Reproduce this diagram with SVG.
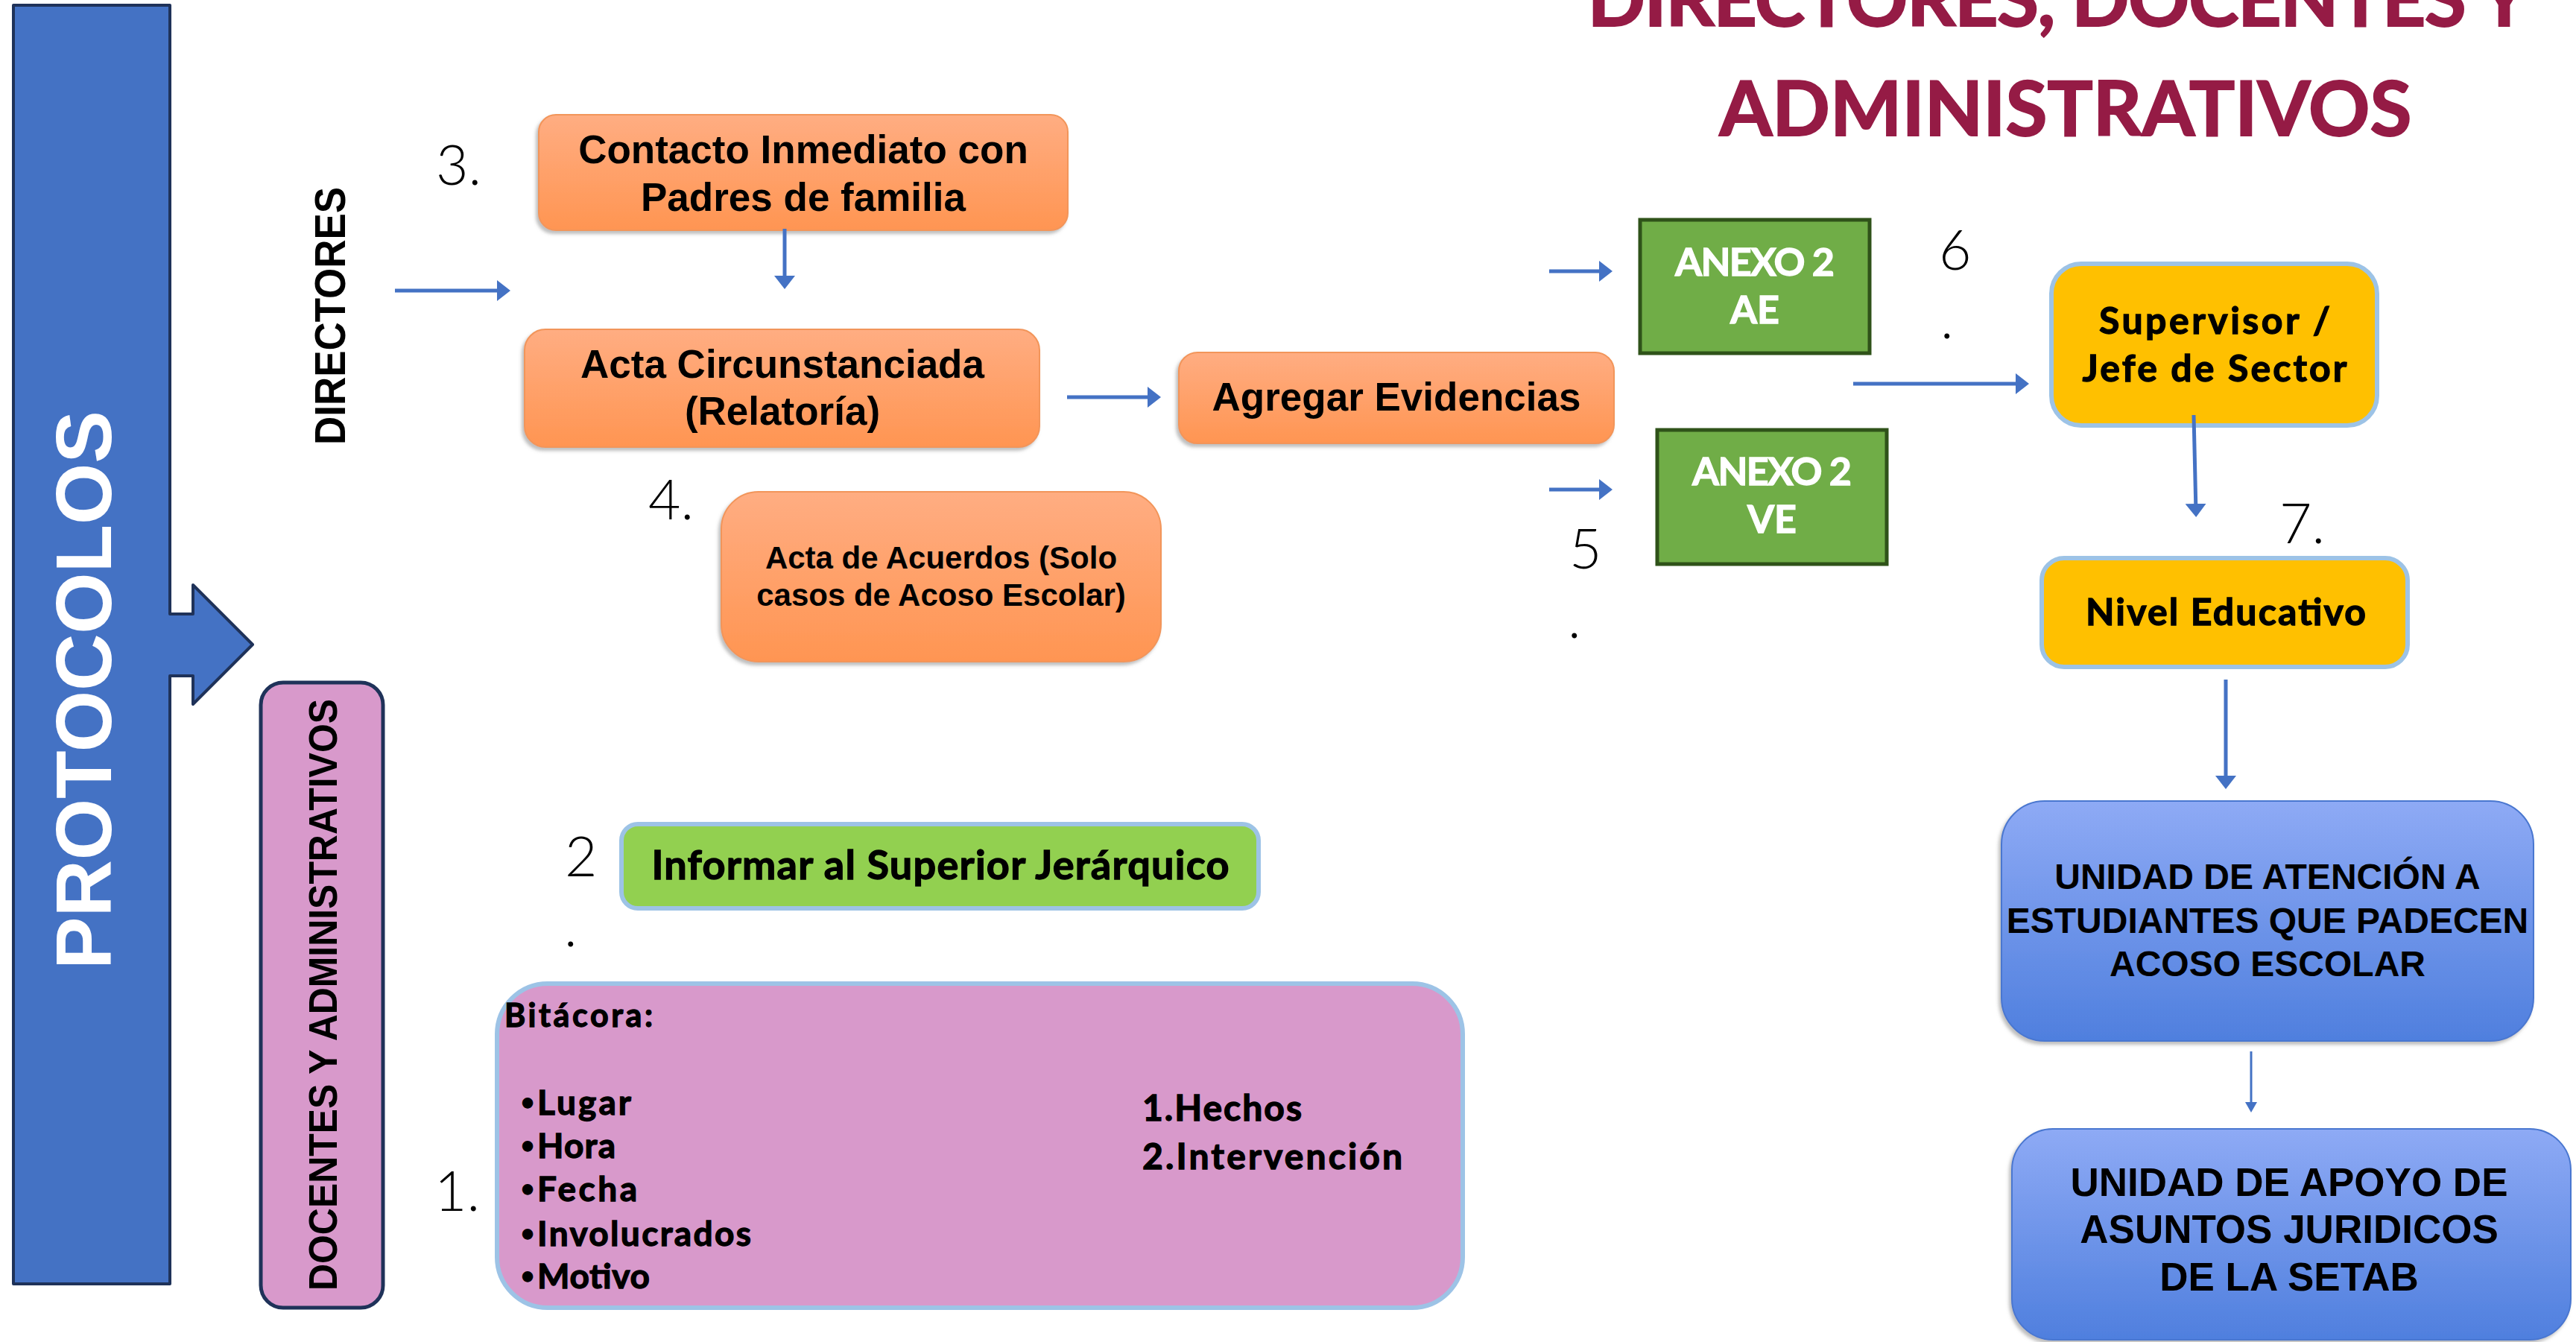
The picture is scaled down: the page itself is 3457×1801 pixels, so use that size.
<svg xmlns="http://www.w3.org/2000/svg" width="3457" height="1801" viewBox="0 0 3457 1801">
<style>
.ar{font-family:"Liberation Sans",Arial,sans-serif;font-weight:bold;fill:#000}
.geo{font-family:Lato,"Noto Sans",sans-serif;font-weight:700;fill:#000;stroke:#000;stroke-width:1.3px;paint-order:stroke}
.bul{font-family:"Liberation Sans",Arial,sans-serif;font-weight:bold}
.num{font-family:Lato,"Open Sans",sans-serif;font-weight:300;fill:#000;font-size:75px}
.conn line{stroke:#4472C4;stroke-width:5;fill:none}
.orange{fill:url(#gOr);stroke:#F2955A;stroke-width:2;filter:url(#sh)}
.blue{fill:url(#gBl);stroke:#4A77D0;stroke-width:2;filter:url(#sh)}
.yel{fill:#FFC000;stroke:#9DC3E6;stroke-width:6}
.pinkb{fill:#D899CB;stroke:#9DC3E6;stroke-width:6}
.grn{fill:#70AD47;stroke:#2F5219;stroke-width:5}
.wt{fill:#fff;stroke:#fff}
.ttl{fill:#951B45;stroke:#951B45;stroke-width:2px}
</style>
<defs>
<linearGradient id="gOr" x1="0" y1="0" x2="0" y2="1"><stop offset="0" stop-color="#FFAD82"/><stop offset="1" stop-color="#FF9552"/></linearGradient>
<linearGradient id="gBl" x1="0" y1="0" x2="0" y2="1"><stop offset="0" stop-color="#8EAAF5"/><stop offset="1" stop-color="#4F7FDE"/></linearGradient>
<filter id="sh" x="-5%" y="-5%" width="110%" height="115%"><feDropShadow dx="-3" dy="4" stdDeviation="2" flood-color="#7f7f7f" flood-opacity="0.5"/></filter>
<marker id="ah" markerUnits="userSpaceOnUse" viewBox="0 0 18 28" markerWidth="18" markerHeight="28" refX="12" refY="14" orient="auto"><path d="M0,0 L18,14 L0,28 Z" fill="#4472C4"/></marker>
<marker id="ahs" markerUnits="userSpaceOnUse" viewBox="0 0 14 16" markerWidth="14" markerHeight="16" refX="10" refY="8" orient="auto"><path d="M0,0 L14,8 L0,16 Z" fill="#4472C4"/></marker>
</defs>
<rect width="3457" height="1801" fill="#fff"/>

<g id="title">
<text class="geo ttl" x="2762" y="35" font-size="102" font-weight="900" text-anchor="middle" textLength="1263">DIRECTORES, DOCENTES Y</text>
<text class="geo ttl" x="2772" y="182" font-size="102" font-weight="900" text-anchor="middle" textLength="929">ADMINISTRATIVOS</text>
</g>

<g id="protocolos">
<path d="M18,7 H228 V824 H259 V785 L339,865 L259,945 V907 H228 V1723 H18 Z" fill="#4472C4" stroke="#1F3259" stroke-width="4" stroke-linejoin="round"/>
<text class="ar" transform="translate(149,926) rotate(-90)" x="0" y="0" font-size="106" text-anchor="middle" style="fill:#fff" textLength="750">PROTOCOLOS</text>
</g>

<g id="directores">
<text class="ar" transform="translate(463,424) rotate(-90)" font-size="58" text-anchor="middle" textLength="346" lengthAdjust="spacingAndGlyphs">DIRECTORES</text>
</g>

<g id="docentes">
<rect x="350" y="916" width="164" height="839" rx="30" fill="#D899CB" stroke="#1F3259" stroke-width="5"/>
<text class="ar" transform="translate(452,1335) rotate(-90)" font-size="54" text-anchor="middle" textLength="794" lengthAdjust="spacingAndGlyphs">DOCENTES Y ADMINISTRATIVOS</text>
</g>

<g id="numbers">
<text class="num" x="585" y="248">3.</text>
<text class="num" x="870" y="697">4.</text>
<text class="num" x="2106" y="763">5</text>
<text class="num" x="2104" y="856">.</text>
<text class="num" x="2602" y="362">6</text>
<text class="num" x="2604" y="454">.</text>
<text class="num" x="3059" y="729">7.</text>
<text class="num" x="758" y="1176">2</text>
<text class="num" x="757" y="1270">.</text>
<text class="num" x="583" y="1625" font-size="70">1.</text>
</g>

<g id="contacto">
<rect class="orange" x="723" y="154" width="710" height="155" rx="23"/>
<text class="ar" x="1078" y="219" font-size="53" text-anchor="middle">Contacto Inmediato con</text>
<text class="ar" x="1078" y="283" font-size="53" text-anchor="middle">Padres de familia</text>
</g>

<g id="acta">
<rect class="orange" x="704" y="442" width="691" height="158" rx="28"/>
<text class="ar" x="1050" y="507" font-size="53" text-anchor="middle">Acta Circunstanciada</text>
<text class="ar" x="1050" y="570" font-size="53" text-anchor="middle">(Relatoría)</text>
</g>

<g id="acuerdos">
<rect class="orange" x="968" y="660" width="590" height="228" rx="50"/>
<text class="ar" x="1263" y="763" font-size="42" text-anchor="middle">Acta de Acuerdos (Solo</text>
<text class="ar" x="1263" y="813" font-size="42" text-anchor="middle">casos de Acoso Escolar)</text>
</g>

<g id="evidencias">
<rect class="orange" x="1582" y="473" width="584" height="122" rx="25"/>
<text class="ar" x="1874" y="551" font-size="53" text-anchor="middle">Agregar Evidencias</text>
</g>

<g id="anexoAE">
<rect class="grn" x="2201" y="295" width="308" height="179"/>
<text class="geo wt" x="2355" y="370" font-size="52" text-anchor="middle" textLength="214">ANEXO 2</text>
<text class="geo wt" x="2355" y="434" font-size="52" text-anchor="middle">AE</text>
</g>

<g id="anexoVE">
<rect class="grn" x="2224" y="577" width="308" height="180"/>
<text class="geo wt" x="2378" y="651" font-size="52" text-anchor="middle" textLength="214">ANEXO 2</text>
<text class="geo wt" x="2378" y="715" font-size="52" text-anchor="middle">VE</text>
</g>

<g id="supervisor">
<rect class="yel" x="2753" y="354" width="437" height="217" rx="40"/>
<text class="geo" x="2972" y="448" font-size="50" text-anchor="middle" textLength="310">Supervisor /</text>
<text class="geo" x="2972" y="512" font-size="50" text-anchor="middle" textLength="355">Jefe de Sector</text>
</g>

<g id="nivel">
<rect class="yel" x="2740" y="749" width="491" height="146" rx="30"/>
<text class="geo" x="2987" y="839" font-size="50" text-anchor="middle" textLength="376">Nivel Educativo</text>
</g>

<g id="unidadAtencion">
<rect class="blue" x="2686" y="1075" width="714" height="322" rx="58"/>
<text class="ar" x="3043" y="1193" font-size="48" text-anchor="middle">UNIDAD DE ATENCIÓN A</text>
<text class="ar" x="3043" y="1252" font-size="48" text-anchor="middle">ESTUDIANTES QUE PADECEN</text>
<text class="ar" x="3043" y="1310" font-size="48" text-anchor="middle">ACOSO ESCOLAR</text>
</g>

<g id="unidadApoyo">
<rect class="blue" x="2700" y="1515" width="750" height="283" rx="55"/>
<text class="ar" x="3072" y="1605" font-size="53" text-anchor="middle">UNIDAD DE APOYO DE</text>
<text class="ar" x="3072" y="1668" font-size="53" text-anchor="middle">ASUNTOS JURIDICOS</text>
<text class="ar" x="3072" y="1732" font-size="53" text-anchor="middle">DE LA SETAB</text>
</g>

<g id="informar">
<rect class="yel" x="834" y="1106" width="855" height="113" rx="22" style="fill:#92D050"/>
<text class="geo" x="1262" y="1180" font-size="54" text-anchor="middle" textLength="775">Informar al Superior Jerárquico</text>
</g>

<g id="bitacora">
<rect class="pinkb" x="667" y="1320" width="1296" height="435" rx="68"/>
<text class="geo" x="677" y="1378" font-size="43" textLength="199">Bitácora:</text>
<text class="geo" x="700" y="1496" font-size="46"><tspan class="bul">•</tspan><tspan x="721" textLength="126">Lugar</tspan></text>
<text class="geo" x="700" y="1554" font-size="46"><tspan class="bul">•</tspan><tspan x="721" textLength="105">Hora</tspan></text>
<text class="geo" x="700" y="1612" font-size="46"><tspan class="bul">•</tspan><tspan x="721" textLength="134">Fecha</tspan></text>
<text class="geo" x="700" y="1672" font-size="46"><tspan class="bul">•</tspan><tspan x="721" textLength="287">Involucrados</tspan></text>
<text class="geo" x="700" y="1729" font-size="46"><tspan class="bul">•</tspan><tspan x="721" textLength="151">Motivo</tspan></text>
<text class="geo" x="1533" y="1504" font-size="48" textLength="214">1.Hechos</text>
<text class="geo" x="1533" y="1569" font-size="48" textLength="349">2.Intervención</text>
</g>

<g id="connectors" class="conn">
<line x1="530" y1="390" x2="679" y2="390" marker-end="url(#ah)"/>
<line x1="1053" y1="307" x2="1053" y2="382" marker-end="url(#ah)"/>
<line x1="1432" y1="533" x2="1552" y2="533" marker-end="url(#ah)"/>
<line x1="2079" y1="364" x2="2158" y2="364" marker-end="url(#ah)"/>
<line x1="2079" y1="657" x2="2158" y2="657" marker-end="url(#ah)"/>
<line x1="2487" y1="515" x2="2717" y2="515" marker-end="url(#ah)"/>
<line x1="2944" y1="557" x2="2947" y2="688" marker-end="url(#ah)"/>
<line x1="2987" y1="912" x2="2987" y2="1053" marker-end="url(#ah)"/>
<line x1="3021" y1="1411" x2="3021" y2="1489" marker-end="url(#ahs)" style="stroke-width:3"/>
</g>
</svg>
